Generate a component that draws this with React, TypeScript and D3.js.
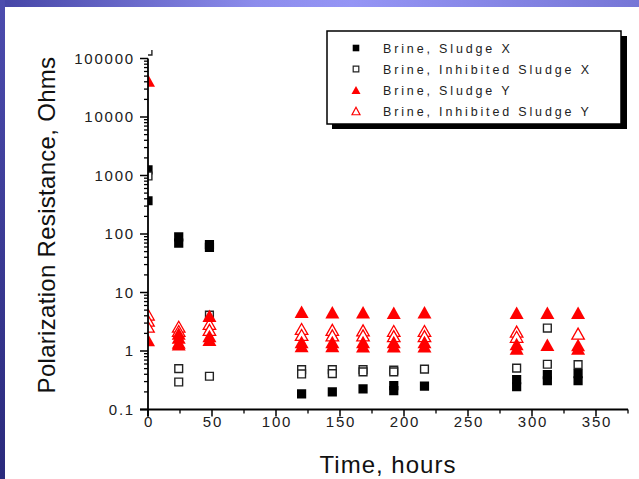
import React from "react";
import * as d3 from "d3";

// Polarization resistance readings (Ohms) against exposure time (hours)
const sludgeXHours = [0, 0, 24, 24, 48, 48, 120, 144, 168, 192, 192, 216, 288, 288, 312, 312, 336, 336];
const sludgeXOhms = [1250, 370, 89, 70, 66, 59, 0.185, 0.2, 0.226, 0.255, 0.21, 0.25, 0.325, 0.245, 0.395, 0.31, 0.41, 0.31];

const inhibXHours = [0, 0, 24, 24, 48, 48, 120, 120, 144, 144, 168, 168, 192, 192, 216, 288, 312, 312, 336];
const inhibXOhms = [134000, 980, 0.5, 0.295, 4.1, 0.37, 0.48, 0.405, 0.48, 0.41, 0.48, 0.44, 0.47, 0.44, 0.49, 0.51, 2.47, 0.594, 0.585];

const sludgeYHours = [0, 0, 24, 24, 24, 24, 48, 48, 48, 120, 120, 120, 144, 144, 144, 168, 168, 168, 192, 192, 192, 216, 216, 216, 288, 288, 288, 312, 312, 336, 336, 336];
const sludgeYOhms = [42000, 1.54, 2.0, 1.7, 1.4, 1.3, 4.0, 1.8, 1.55, 4.7, 1.43, 1.22, 4.6, 1.42, 1.22, 4.6, 1.43, 1.21, 4.5, 1.42, 1.2, 4.6, 1.43, 1.2, 4.5, 1.32, 1.1, 4.5, 1.28, 4.5, 1.27, 1.1];

const inhibYHours = [0, 0, 0, 24, 24, 48, 48, 120, 120, 144, 144, 168, 168, 192, 192, 216, 216, 288, 288, 336];
const inhibYOhms = [4.2, 3.3, 2.6, 2.6, 2.2, 2.9, 2.3, 2.38, 1.88, 2.3, 1.85, 2.25, 1.85, 2.2, 1.8, 2.2, 1.8, 2.14, 1.75, 1.98];

const xTicks = [0, 50, 100, 150, 200, 250, 300, 350];
const yTickLabels = ["0.1", "1", "10", "100", "1000", "10000", "100000"];
const legendLabels = ["Brine, Sludge X", "Brine, Inhibited Sludge X", "Brine, Sludge Y", "Brine, Inhibited Sludge Y"];

const W = 639;
const H = 479;
const X0 = 148;
const X1 = 628;
const YB = 409.5;
const YT = 58.5;

const x = d3.scaleLinear().domain([0, 375]).range([X0, X1]);
const y = d3.scaleLog().domain([0.1, 100000]).range([YB, YT]);

const FONT = "'Liberation Sans', Arial, sans-serif";
const RED = "#ff0000";

function squarePath(cx: number, cy: number, h: number) {
  return `M${cx - h},${cy - h}h${2 * h}v${2 * h}h${-2 * h}Z`;
}
function trianglePath(cx: number, cy: number, w: number, h: number) {
  return `M${cx},${cy - h / 2}L${cx + w / 2},${cy + h / 2}L${cx - w / 2},${cy + h / 2}Z`;
}

function pairs(hs: number[], vs: number[]) {
  return hs.map((h, i) => [h, vs[i]] as [number, number]);
}

export default function App() {
  const minorTicks: number[] = [];
  for (let e = -1; e < 5; e++) {
    for (let m = 2; m <= 9; m++) minorTicks.push(m * Math.pow(10, e));
  }
  const xMinor = d3.range(25, 376, 50);

  return (
    <div style={{ position: "fixed", left: 0, top: 0, width: W, height: H, background: "#fff" }}>
      <svg width={W} height={H} style={{ display: "block" }}>
        <defs>
          <linearGradient id="topBand" x1="0" y1="0" x2="1" y2="0">
            <stop offset="0" stopColor="#4545a6" />
            <stop offset="0.4" stopColor="#8c8cec" />
            <stop offset="0.55" stopColor="#9595f5" />
            <stop offset="1" stopColor="#7676d6" />
          </linearGradient>
          <linearGradient id="leftBand" x1="0" y1="0" x2="0" y2="1">
            <stop offset="0" stopColor="#4c4cae" />
            <stop offset="1" stopColor="#2a2a7c" />
          </linearGradient>
          <clipPath id="plotClip">
            <rect x={X0} y={50} width={X1 - X0 + 4} height={YB - 50 + 2} />
          </clipPath>
        </defs>

        <rect x={0} y={0} width={W} height={H} fill="#fff" />
        <rect x={0} y={0} width={W} height={7} fill="url(#topBand)" />
        <rect x={0} y={0} width={5} height={H} fill="url(#leftBand)" />

        {/* data markers */}
        <g clipPath="url(#plotClip)">
          {pairs(sludgeXHours, sludgeXOhms).map(([t, v], i) => (
            <path key={`sx${i}`} d={squarePath(x(t), y(v), 4.6)} fill="#000" />
          ))}
          {pairs(inhibXHours, inhibXOhms).map(([t, v], i) => (
            <path key={`ix${i}`} d={squarePath(x(t), y(v), 3.9)} fill="#fff" stroke="#222" strokeWidth={1.4} />
          ))}
          {pairs(inhibYHours, inhibYOhms).map(([t, v], i) => (
            <path key={`iy${i}`} d={trianglePath(x(t), y(v), 12.5, 11)} fill="#fff" stroke={RED} strokeWidth={1.3} />
          ))}
          {pairs(sludgeYHours, sludgeYOhms).map(([t, v], i) => (
            <path key={`sy${i}`} d={trianglePath(x(t), y(v), 14, 12.5)} fill={RED} />
          ))}
        </g>

        {/* y axis */}
        <g stroke="#000">
          <line x1={X0} x2={X0} y1={YT} y2={YB + 7} strokeWidth={1.8} />
          {yTickLabels.map((s) => (
            <line key={`ym${s}`} x1={X0 - 8} x2={X0} y1={y(+s)} y2={y(+s)} strokeWidth={1.5} />
          ))}
          {minorTicks.map((v, i) => (
            <line key={`yn${i}`} x1={X0 - 4} x2={X0} y1={y(v)} y2={y(v)} strokeWidth={1.3} />
          ))}
        </g>
        <g fontFamily={FONT} fontSize={15} fill="#202020" letterSpacing={1.8} textAnchor="end">
          {yTickLabels.map((s) => (
            <text key={`yl${s}`} x={135} y={y(+s)} dy="0.36em">
              {s}
            </text>
          ))}
        </g>

        {/* x axis */}
        <g stroke="#000">
          <line x1={X0 - 8} x2={X1} y1={YB} y2={YB} strokeWidth={1.8} />
          {xTicks.map((t) => (
            <line key={`xm${t}`} x1={x(t)} x2={x(t)} y1={YB} y2={YB + 7} strokeWidth={1.5} />
          ))}
          {xMinor.map((t) => (
            <line key={`xn${t}`} x1={x(t)} x2={x(t)} y1={YB} y2={YB + 4} strokeWidth={1.3} />
          ))}
        </g>
        <g fontFamily={FONT} fontSize={15} fill="#202020" letterSpacing={1.8} textAnchor="middle">
          {xTicks.map((t) => (
            <text key={`xl${t}`} x={x(t) + 1} y={427}>
              {t}
            </text>
          ))}
        </g>

        {/* axis titles */}
        <text x={388} y={473} fontFamily={FONT} fontSize={24} fill="#111" textAnchor="middle" letterSpacing={1}>
          Time, hours
        </text>
        <text
          transform="translate(55,225) rotate(-90)"
          fontFamily={FONT}
          fontSize={24}
          fill="#111"
          textAnchor="middle"
          letterSpacing={0.3}
        >
          Polarization Resistance, Ohms
        </text>

        {/* legend */}
        <rect x={332} y={36} width={295} height={93} fill="#000" />
        <rect x={327} y={31} width={294} height={93} fill="#fff" stroke="#000" strokeWidth={1.5} />
        {legendLabels.map((label, i) => {
          const ly = 48 + i * 21;
          const mx = 356;
          let marker;
          if (i === 0) marker = <path d={squarePath(mx, ly, 3.3)} fill="#000" />;
          else if (i === 1) marker = <path d={squarePath(mx, ly, 2.8)} fill="#fff" stroke="#222" strokeWidth={1.2} />;
          else if (i === 2) marker = <path d={trianglePath(mx, ly, 9, 8)} fill={RED} />;
          else marker = <path d={trianglePath(mx, ly, 8, 7.5)} fill="#fff" stroke={RED} strokeWidth={1.2} />;
          return (
            <g key={label}>
              {marker}
              <text x={383} y={ly} dy="0.36em" fontFamily={FONT} fontSize={12.5} letterSpacing={2.85} fill="#222">
                {label}
              </text>
            </g>
          );
        })}
      </svg>
    </div>
  );
}
